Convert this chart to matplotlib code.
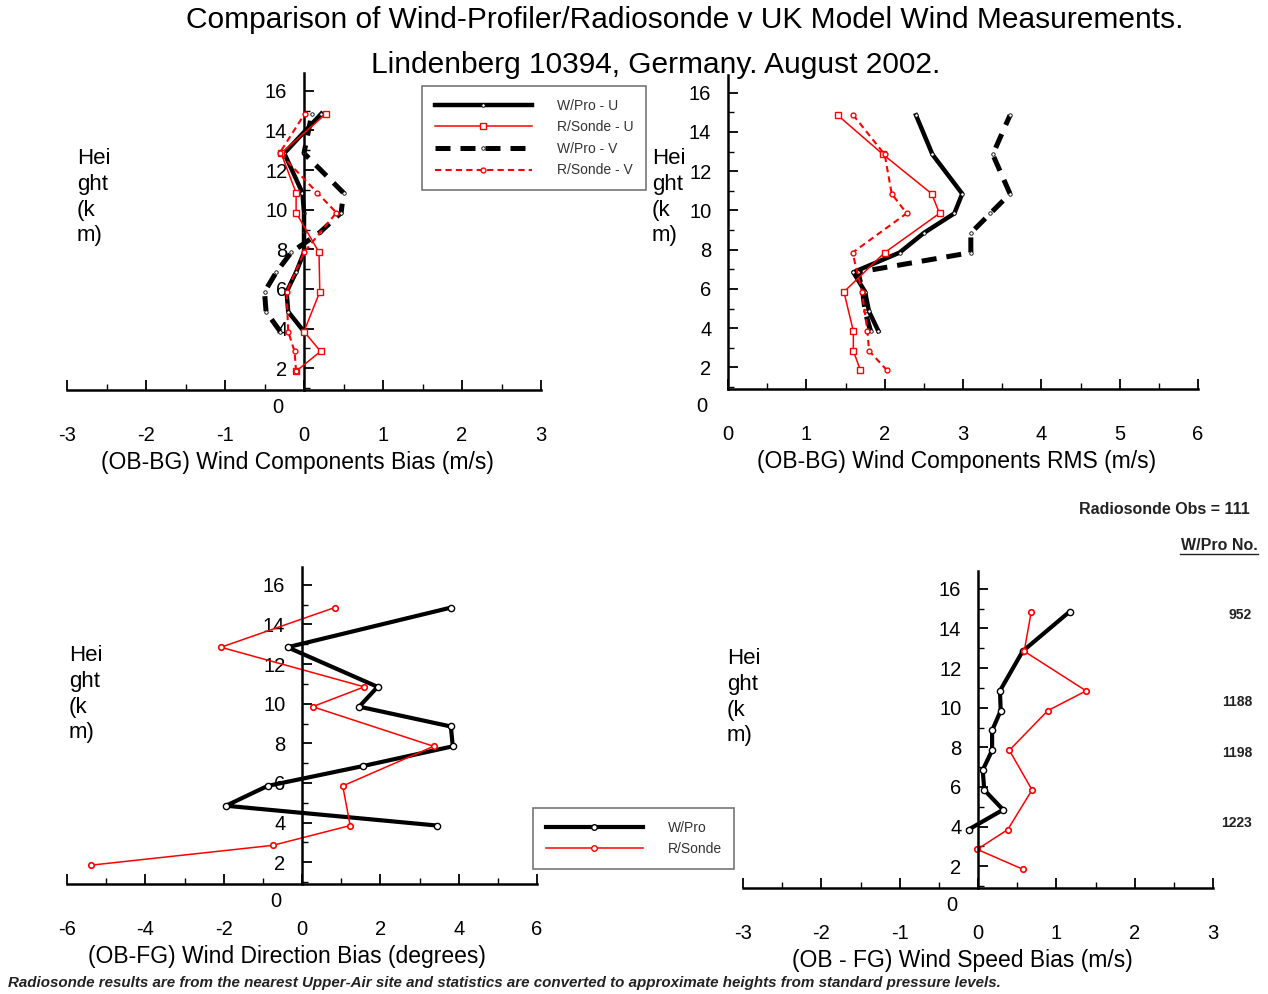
import matplotlib.pyplot as plt
from matplotlib.lines import Line2D
from matplotlib.ticker import MultipleLocator

# heights (km) of the profiler gates and the radiosonde pressure levels
wp_heights = [3.85, 4.85, 5.85, 6.85, 7.85, 8.85, 9.85, 10.85, 12.85, 14.85]
rs_heights = [1.85, 2.85, 3.85, 5.85, 7.85, 9.85, 10.85, 12.85, 14.85]

# (OB-BG) wind components bias (m/s)
bias_wp_u = [0.0, -0.2, -0.22, -0.1, 0.0, 0.0, 0.0, -0.02, -0.25, 0.22]
bias_wp_v = [-0.3, -0.48, -0.5, -0.35, -0.16, 0.2, 0.47, 0.5, 0.0, 0.1]
bias_rs_u = [-0.1, 0.21, 0.0, 0.2, 0.19, -0.1, -0.1, -0.29, 0.28]
bias_rs_v = [-0.1, -0.12, -0.2, -0.22, 0.0, 0.41, 0.17, -0.31, 0.01]

# (OB-BG) wind components RMS (m/s)
rms_wp_u = [1.92, 1.8, 1.75, 1.6, 2.19, 2.5, 2.89, 2.99, 2.61, 2.40]
rms_wp_v = [1.82, 1.75, 1.72, 1.66, 3.1, 3.1, 3.35, 3.6, 3.38, 3.6]
rms_rs_u = [1.69, 1.6, 1.6, 1.48, 2.0, 2.7, 2.6, 1.98, 1.40]
rms_rs_v = [2.03, 1.8, 1.78, 1.71, 1.59, 2.28, 2.09, 2.0, 1.6]

# (OB-FG) wind direction bias (degrees)
dir_wp = [3.45, -1.94, -0.88, 1.55, 3.85, 3.8, 1.46, 1.93, -0.37, 3.8]
dir_rs = [-5.39, -0.75, 1.23, 1.04, 3.36, 0.27, 1.59, -2.07, 0.83]

# (OB-FG) wind speed bias (m/s)
spd_wp = [-0.12, 0.32, 0.08, 0.06, 0.18, 0.18, 0.29, 0.28, 0.57, 1.17]
spd_rs = [0.57, -0.01, 0.38, 0.69, 0.40, 0.89, 1.38, 0.59, 0.68]

wp_counts = ["952", "1188", "1198", "1223"]
wp_count_y = [615, 702, 753, 823]

plt.rcParams['font.family'] = ['Liberation Sans', 'DejaVu Sans']

W, H = 1268, 994
fig = plt.figure(figsize=(W / 100, H / 100), dpi=100)


def box(x0, x1, ybot, ytop):
    return [x0 / W, 1 - ybot / H, (x1 - x0) / W, (ybot - ytop) / H]


def style_axes(ax, xlim, xmajor, xminor, xlabel, label_x):
    ax.set_xlim(*xlim)
    ax.set_ylim(0.9, 16.9)
    for s in ['top', 'right']:
        ax.spines[s].set_visible(False)
    ax.spines['left'].set_position(('data', 0))
    ax.spines['left'].set_linewidth(1.8)
    ax.spines['bottom'].set_linewidth(1.8)
    ax.xaxis.set_major_locator(MultipleLocator(xmajor))
    ax.xaxis.set_minor_locator(MultipleLocator(xminor))
    ax.set_yticks(range(2, 17, 2))
    ax.yaxis.set_minor_locator(MultipleLocator(1))
    ax.tick_params(which='major', direction='in', length=7, width=1.3, labelsize=14.5)
    ax.tick_params(which='minor', direction='in', length=4, width=1.0)
    ax.tick_params(axis='x', which='major', pad=26)
    ax.tick_params(axis='y', which='major', pad=12)
    ax.set_xticklabels([f"{int(t)}" for t in ax.get_xticks()])
    ax.annotate('0', xy=(0, 0), xycoords='data', xytext=(-15, 0),
                textcoords='offset points', ha='right', va='center',
                fontsize=14.5, annotation_clip=False)
    ax.set_xlabel(xlabel, fontsize=16.5)
    ax.xaxis.set_label_coords(label_x, -0.193)
    ax.patch.set_alpha(0)


wp_kw = dict(color='black', lw=3.2, marker='o', ms=2.5, mfc='white', mec='black', mew=0.6)
rs_kw = dict(color='red', lw=1.1, marker='s', ms=5, mfc='white', mec='red', mew=1.0)
wpv_kw = dict(color='black', lw=3.6, ls=(0, (3, 2)), marker='o', ms=2.5, mfc='white', mec='black', mew=0.6)
rsv_kw = dict(color='red', lw=1.5, ls=(0, (3, 2)), marker='o', ms=3.5, mfc='white', mec='red', mew=1.0)

# top left: component bias
ax1 = fig.add_axes(box(67, 541, 390, 73))
ax1.plot(bias_rs_u, rs_heights, **rs_kw, zorder=3)
ax1.plot(bias_rs_v, rs_heights, **rsv_kw, zorder=3)
ax1.plot(bias_wp_u, wp_heights, **wp_kw, zorder=2)
ax1.plot(bias_wp_v, wp_heights, **wpv_kw, zorder=2)
style_axes(ax1, (-3, 3), 1, 0.5, '(OB-BG) Wind Components Bias (m/s)', 0.487)

# top right: component RMS
ax2 = fig.add_axes(box(728, 1198, 389, 75))
ax2.plot(rms_rs_u, rs_heights, **rs_kw, zorder=3)
ax2.plot(rms_rs_v, rs_heights, **rsv_kw, zorder=3)
ax2.plot(rms_wp_u, wp_heights, **wp_kw, zorder=2)
ax2.plot(rms_wp_v, wp_heights, **wpv_kw, zorder=2)
style_axes(ax2, (0, 6), 1, 0.5, '(OB-BG) Wind Components RMS (m/s)', 0.487)

# bottom left: direction bias
ax3 = fig.add_axes(box(67, 537, 884, 567))
ax3.plot(dir_wp, wp_heights, color='black', lw=3.0, marker='o', ms=4.5, mfc='white', mec='black', mew=1.0)
ax3.plot(dir_rs, rs_heights, color='red', lw=1.1, marker='o', ms=4, mfc='white', mec='red', mew=1.2)
style_axes(ax3, (-6, 6), 2, 1, '(OB-FG) Wind Direction Bias (degrees)', 0.468)

# bottom right: speed bias
ax4 = fig.add_axes(box(743, 1213, 888, 571))
ax4.plot(spd_wp, wp_heights, color='black', lw=3.0, marker='o', ms=4.5, mfc='white', mec='black', mew=1.0)
ax4.plot(spd_rs, rs_heights, color='red', lw=1.1, marker='o', ms=4, mfc='white', mec='red', mew=1.2)
style_axes(ax4, (-3, 3), 1, 0.5, '(OB - FG) Wind Speed Bias (m/s)', 0.466)

# "Height (km)" labels broken over lines, as in the original
for x, y in [(77, 148), (652, 148), (69, 645), (727, 648)]:
    fig.text(x / W, 1 - y / H, 'Hei\nght\n(k\nm)', fontsize=16, va='top', ha='left',
             linespacing=1.3)

# titles
fig.text(685 / W, 1 - 20 / H, 'Comparison of Wind-Profiler/Radiosonde v UK Model Wind Measurements.',
         ha='center', va='center', fontsize=21.5)
fig.text(656 / W, 1 - 65 / H, 'Lindenberg 10394, Germany. August 2002.',
         ha='center', va='center', fontsize=21.5)

# legends
leg_small = dict(fontsize=10, frameon=True, fancybox=False, edgecolor='#555555',
                 handlelength=7.0, borderpad=0.9, labelspacing=0.55, handletextpad=1.8,
                 borderaxespad=0)
h1 = [Line2D([], [], **wp_kw), Line2D([], [], **rs_kw),
      Line2D([], [], **wpv_kw), Line2D([], [], **rsv_kw)]
for h in h1:
    h.set_markevery([0])
leg1 = fig.legend(h1, ['W/Pro - U', 'R/Sonde - U', 'W/Pro - V', 'R/Sonde - V'],
                  loc='upper left', bbox_to_anchor=(422 / W, 1 - 86 / H), **leg_small)
leg1.get_frame().set_linewidth(1.2)
for t in leg1.get_texts():
    t.set_color('#333333')

h2 = [Line2D([], [], color='black', lw=3.0, marker='o', ms=4, mfc='white', mec='black'),
      Line2D([], [], color='red', lw=1.1, marker='o', ms=4, mfc='white', mec='red')]
leg2 = fig.legend(h2, ['W/Pro', 'R/Sonde'], loc='upper left',
                  bbox_to_anchor=(533 / W, 1 - 808 / H), **leg_small)
leg2.get_frame().set_linewidth(1.2)
for t in leg2.get_texts():
    t.set_color('#333333')

# right-hand annotations
fig.text(1250 / W, 1 - 510 / H, 'Radiosonde Obs = 111', ha='right', va='center',
         fontsize=11.5, fontweight='bold', color='#222222')
fig.text(1258 / W, 1 - 545 / H, 'W/Pro No.', ha='right', va='center',
         fontsize=11.5, fontweight='bold', color='#222222')
fig.add_artist(Line2D([1180 / W, 1258 / W], [1 - 554 / H, 1 - 554 / H], color='#222222', lw=1.0))
for lab, y in zip(wp_counts, wp_count_y):
    fig.text(1252 / W, 1 - y / H, lab, ha='right', va='center', fontsize=10,
             fontweight='bold', color='#222222')

fig.text(8 / W, 1 - 983 / H,
         'Radiosonde results are from the nearest Upper-Air site and statistics are converted to '
         'approximate heights from standard pressure levels.',
         ha='left', va='center', fontsize=10.9, style='italic', fontweight='bold',
         color='#222222')

fig.savefig('out.png', dpi=100)
